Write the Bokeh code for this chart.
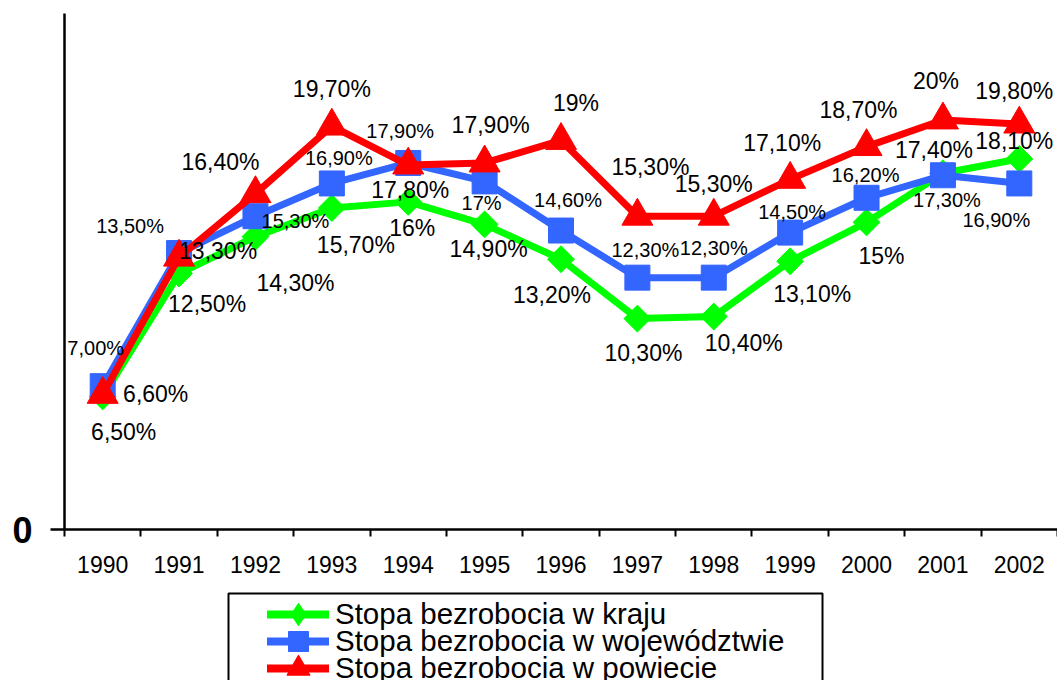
import math
from bokeh.plotting import figure
from bokeh.layouts import column
from bokeh.models import (FixedTicker, Range1d, Legend, LegendItem, ColumnDataSource,
                          BoxAnnotation)
from bokeh.core.properties import value
from bokeh.embed import file_html
from bokeh.resources import INLINE

years = ["1990", "1991", "1992", "1993", "1994", "1995", "1996",
         "1997", "1998", "1999", "2000", "2001", "2002"]

kraj = [6.5, 12.5, 14.3, 15.7, 16.0, 14.9, 13.2, 10.3, 10.4, 13.1, 15.0, 17.4, 18.1]
woj = [7.0, 13.5, 15.3, 16.9, 17.9, 17.0, 14.6, 12.3, 12.3, 14.5, 16.2, 17.3, 16.9]
powiat = [6.6, 13.3, 16.4, 19.7, 17.8, 17.9, 19.0, 15.3, 15.3, 17.1, 18.7, 20.0, 19.8]

kraj_labels = ["6,50%", "12,50%", "14,30%", "15,70%", "16%", "14,90%", "13,20%",
               "10,30%", "10,40%", "13,10%", "15%", "17,40%", "18,10%"]
woj_labels = ["7,00%", "13,50%", "15,30%", "16,90%", "17,90%", "17%", "14,60%",
              "12,30%", "12,30%", "14,50%", "16,20%", "17,30%", "16,90%"]
powiat_labels = ["6,60%", "13,30%", "16,40%", "19,70%", "17,80%", "17,90%", "19%",
                 "15,30%", "15,30%", "17,10%", "18,70%", "20%", "19,80%"]

series_names = ["Stopa bezrobocia w kraju",
                "Stopa bezrobocia w województwie",
                "Stopa bezrobocia w powiecie"]

# label offsets in screen pixels (style only)
kraj_dx = [21, 28, 40, 24, 4, 4, -9, 6, 30, 22, 15, -9, -5]
kraj_dy = [36, 30, 46, 37, 26, 25, 36, 34, 26, 33, 34, -23, -18]
woj_dx = [-7, -49, 40, 7, -8, -3, 7, 8, 0, 2, -1, 4, -23]
woj_dy = [-38, -27, 5, -25, -32, 22, -31, -28, -30, -21, -23, 25, 37]
pow_dx = [53, 39, -35, 0, 2, 6, 15, 13, 0, -8, -8, -7, -5]
pow_dy = [0, -6, -32, -37, 25, -38, -37, -49, -32, -36, -37, -39, -33]

FONT = "Liberation Sans"
xs = list(range(len(years)))

p = figure(width=1057, height=590, x_range=Range1d(-0.5, len(years) - 0.5),
           y_range=Range1d(0, 25.2), output_backend="svg", toolbar_location=None,
           min_border_left=64, min_border_right=0, min_border_top=13,
           min_border_bottom=61)
p.outline_line_color = None
p.xgrid.visible = False
p.ygrid.visible = False

# x axis
xa = p.xaxis[0]
xa.ticker = FixedTicker(ticks=xs, minor_ticks=[i - 0.5 for i in range(len(years) + 1)])
xa.major_label_overrides = {i: y for i, y in enumerate(years)}
xa.major_tick_out = 0
xa.major_tick_in = 0
xa.minor_tick_out = 7
xa.minor_tick_in = 0
xa.minor_tick_line_width = 2
xa.minor_tick_line_color = "black"
xa.axis_line_width = 2.5
xa.axis_line_color = "black"
xa.major_label_text_font = FONT
xa.major_label_text_font_size = "23px"
xa.major_label_text_color = "black"
xa.major_label_standoff = 19

ya = p.yaxis[0]
ya.ticker = FixedTicker(ticks=[0])
ya.major_label_overrides = {0: "0"}
ya.major_tick_out = 14
ya.major_tick_in = 0
ya.major_tick_line_width = 2.5
ya.minor_tick_out = 0
ya.minor_tick_in = 0
ya.axis_line_width = 2.5
ya.axis_line_color = "black"
ya.major_label_text_font = FONT
ya.major_label_text_font_style = "bold"
ya.major_label_text_font_size = "36px"
ya.major_label_text_color = "black"
ya.major_label_standoff = 18

specs = [
    (kraj, kraj_labels, kraj_dx, kraj_dy, "#00FF00", "square", 19, math.pi / 4, "23px"),
    (woj, woj_labels, woj_dx, woj_dy, "#3366FF", "square", 25, 0, "20px"),
    (powiat, powiat_labels, pow_dx, pow_dy, "#FF0000", "triangle", 31, 0, "23px"),
]
legend_markers = ["diamond", "square", "triangle"]

# legend strip below the chart (its data units are page pixels)
p2 = figure(width=1057, height=90, x_range=Range1d(64, 1057), y_range=Range1d(90, 0),
            output_backend="svg", toolbar_location=None,
            x_axis_location=None, y_axis_location=None,
            min_border_left=64, min_border_right=0, min_border_top=0, min_border_bottom=0)
p2.outline_line_color = None
p2.xgrid.visible = False
p2.ygrid.visible = False

# legend styling: glyph box heights set the legend marker size (0.4 * box)
legend_glyph_h = [56, 50, 58]
legend_row_center = [20, 47, 74]
PAD = 4
for (vals, labels, dx, dy, color, marker, size, angle, fsize), name, gh, c, lm in zip(
        specs, series_names, legend_glyph_h, legend_row_center, legend_markers):
    src = ColumnDataSource(dict(x=xs, y=vals))
    p.line("x", "y", source=src, line_color=color, line_width=7)
    p.scatter("x", "y", source=src, marker=marker, size=size, angle=angle,
              fill_color=color, line_color=color)
    # proxies in the legend strip: same data, falls outside its visible range
    ln = p2.line("x", "y", source=src, line_color=color, line_width=8, line_cap="round")
    sc = p2.scatter("x", "y", source=src, marker=lm, size=size,
                    fill_color=color, line_color=color)
    vy = 90 - PAD - gh / 2 - c
    lg = Legend(items=[LegendItem(label=name, renderers=[ln, sc])], location=(203, vy))
    lg.label_text_font = FONT
    lg.label_text_font_size = "29.5px"
    lg.label_text_color = "black"
    lg.label_height = 27
    lg.glyph_height = gh
    lg.glyph_width = 62
    lg.label_standoff = 6
    lg.spacing = 0
    lg.padding = PAD
    lg.margin = 0
    lg.border_line_color = None
    lg.background_fill_alpha = 0
    p2.add_layout(lg)

for (vals, labels, dx, dy, color, marker, size, angle, fsize) in specs:
    tsrc = ColumnDataSource(dict(x=xs, y=vals, t=labels, dx=dx, dy=dy))
    p.text("x", "y", text="t", source=tsrc, x_offset="dx", y_offset="dy",
           text_font=value(FONT), text_font_size=fsize, text_color="black",
           text_align="center", text_baseline="middle")

box = BoxAnnotation(left=228, right=822, top=3, bottom=200,
                    fill_alpha=0, line_color="black", line_alpha=1, line_width=2)
p2.add_layout(box)

open("out.html", "w").write(file_html(column(p, p2, spacing=0), INLINE))
